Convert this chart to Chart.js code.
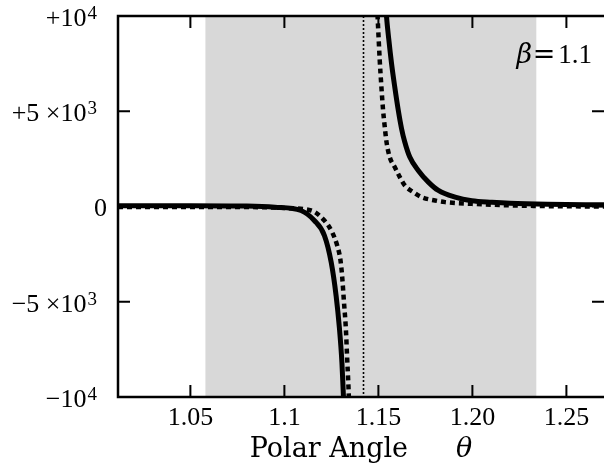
<!DOCTYPE html>
<html>
<head>
<meta charset="utf-8">
<script src="https://cdn.jsdelivr.net/npm/chart.js@4"></script>
<style>
  body { margin: 0; background: #fff; }
</style>
</head>
<body>
<canvas id="PoleChart" width="604" height="468"></canvas>
<script>
// 실선 곡선 (null = 극점에서 끊김)
const thetaSolid = [1.0115, 1.05, 1.08, 1.095, 1.1088, 1.1159, 1.1213, 1.1249, 1.1275, 1.1293, 1.1306, 1.1314, 1.1325,
                    1.142,
                    1.1530, 1.1543, 1.1555, 1.157, 1.1587, 1.1605, 1.1623, 1.164, 1.1667, 1.1712, 1.1766, 1.1819,
                    1.1908, 1.1997, 1.2104, 1.22, 1.24, 1.27];
const valSolid = [40, 40, 20, -40, -210, -736, -1525, -2930, -4680, -6420, -8190, -9950, -12000,
                  null,
                  12000, 10000, 8800, 7500, 6280, 5100, 4100, 3400, 2595, 1894, 1280, 842,
                  490, 300, 220, 170, 120, 90];

// 점선 곡선
const thetaDashed = [1.0115, 1.05, 1.09, 1.1, 1.1142, 1.1213, 1.1254, 1.1281, 1.1297, 1.1306, 1.1317, 1.1327, 1.1334, 1.1341, 1.1348,
                     1.142,
                     1.1488, 1.1498, 1.1507, 1.1516, 1.1525, 1.1534, 1.1543, 1.156, 1.1587, 1.1614, 1.1641, 1.1686,
                     1.173, 1.1801, 1.1855, 1.1997, 1.22, 1.24, 1.27];
const valDashed = [-20, -20, -40, -80, -210, -736, -1350, -2050, -2736, -3520, -5030, -6420, -8000, -9500, -11500,
                   null,
                   11500, 9500, 7700, 6280, 5050, 4174, 3400, 2600, 2070, 1542, 1100, 753,
                   490, 316, 230, 140, 60, 20, 0];

// 축 눈금
const xTickVals = [1.05, 1.1, 1.15, 1.20, 1.25];
const xTickLabels = ['1.05', '1.1', '1.15', '1.20', '1.25'];
const yTickVals = [-10000, -5000, 0, 5000, 10000];
const yTickBase = ['\u221210', '\u22125 \u00d710', '0', '+5 \u00d710', '+10'];
const yTickExp = ['4', '3', '', '3', '4'];

// 회색 영역, 극점 위치
const shadeFrom = 1.058;
const shadeTo = 1.234;
const poleTheta = 1.1418;

const toPoints = (xs, ys) => xs.map((x, i) => ({ x: x, y: ys[i] }));

const serif = "'DejaVu Serif', serif";
const tickFont = "'Liberation Serif', serif";

const decor = {
    id: 'decor',
    beforeDatasetsDraw(chart) {
        const { ctx, chartArea, scales } = chart;
        const x = scales.x;
        ctx.save();
        // 회색 배경 영역
        const x0 = x.getPixelForValue(shadeFrom);
        const x1 = x.getPixelForValue(shadeTo);
        ctx.fillStyle = '#d8d8d8';
        ctx.fillRect(x0, chartArea.top, x1 - x0, chartArea.bottom - chartArea.top);
        // 극점 점선
        const xp = Math.round(x.getPixelForValue(poleTheta)) + 0.5;
        ctx.strokeStyle = '#000';
        ctx.lineWidth = 1.6;
        ctx.setLineDash([2, 2]);
        ctx.beginPath();
        ctx.moveTo(xp, chartArea.top);
        ctx.lineTo(xp, chartArea.bottom);
        ctx.stroke();
        ctx.restore();
    },
    afterDatasetsDraw(chart) {
        const { ctx, chartArea, scales } = chart;
        const { left, right, top, bottom } = chartArea;
        ctx.save();
        ctx.strokeStyle = '#000';
        ctx.lineWidth = 2;
        // 안쪽으로 향한 눈금
        ctx.beginPath();
        xTickVals.forEach(v => {
            const px = scales.x.getPixelForValue(v);
            ctx.moveTo(px, bottom); ctx.lineTo(px, bottom - 12);
            ctx.moveTo(px, top); ctx.lineTo(px, top + 12);
        });
        yTickVals.forEach(v => {
            const py = scales.y.getPixelForValue(v);
            ctx.moveTo(left, py); ctx.lineTo(left + 12, py);
            ctx.moveTo(right, py); ctx.lineTo(right - 12, py);
        });
        ctx.stroke();
        // 테두리 (오른쪽 선은 그림 밖)
        ctx.lineWidth = 2.5;
        ctx.strokeRect(left, top, right - left + 3, bottom - top);

        ctx.fillStyle = '#000';
        ctx.textBaseline = 'alphabetic';

        // y축 라벨 (지수는 작게 위로)
        yTickVals.forEach((v, i) => {
            const py = scales.y.getPixelForValue(v);
            const base = yTickBase[i];
            const exp = yTickExp[i];
            if (!exp) {
                ctx.font = '26px ' + tickFont;
                ctx.textAlign = 'right';
                ctx.fillText(base, 107, py + 9);
                return;
            }
            ctx.font = '19px ' + tickFont;
            ctx.textAlign = 'right';
            ctx.fillText(exp, 97, py + 3);
            const we = ctx.measureText(exp).width;
            ctx.font = '26px ' + tickFont;
            ctx.fillText(base, 97 - we - 1, py + 10);
        });
        ctx.textAlign = 'left';

        // beta 라벨
        ctx.font = '27px ' + tickFont;
        const w11 = ctx.measureText('1.1').width;
        ctx.fillText('1.1', 592 - w11, 63);
        ctx.font = '27px ' + serif;
        const wEq = ctx.measureText('=').width;
        ctx.fillText('=', 544 - wEq / 2, 63);
        ctx.font = 'italic 27px ' + serif;
        const wB = ctx.measureText('\u03b2').width;
        ctx.fillText('\u03b2', 532 - wB, 63);

        // x축 제목
        const cx = (left + right) / 2;
        ctx.font = '27px ' + serif;
        const wTitle = ctx.measureText('Polar Angle').width;
        ctx.font = 'italic 27px ' + serif;
        const wTheta = ctx.measureText('\u03b8').width;
        const gap = 48;
        const start = cx - (wTitle + gap + wTheta) / 2;
        ctx.font = '27px ' + serif;
        ctx.fillText('Polar Angle', start, 457);
        ctx.font = 'italic 27px ' + serif;
        ctx.fillText('\u03b8', start + wTitle + gap, 457);
        ctx.restore();
    }
};

const pole_chart = () => {
    const ctx = document.getElementById('PoleChart');
    if (!ctx) return;

    new Chart(ctx, {
        type: 'scatter',
        data: {
            datasets: [
                {
                    label: 'solid',
                    data: toPoints(thetaSolid, valSolid),
                    showLine: true,
                    borderColor: '#000',
                    borderWidth: 5,
                    pointRadius: 0,
                    cubicInterpolationMode: 'monotone',
                    spanGaps: false
                },
                {
                    label: 'dashed',
                    data: toPoints(thetaDashed, valDashed),
                    showLine: true,
                    borderColor: '#000',
                    borderWidth: 4.5,
                    borderDash: [5, 4],
                    pointRadius: 0,
                    cubicInterpolationMode: 'monotone',
                    spanGaps: false
                }
            ]
        },
        options: {
            responsive: false,
            animation: false,
            layout: { padding: { top: 16, right: 0, left: 0, bottom: 0 } },
            plugins: {
                legend: { display: false },
                tooltip: { enabled: false }
            },
            scales: {
                x: {
                    type: 'linear',
                    min: 1.0115,
                    max: 1.27,
                    grid: { display: false, drawTicks: false },
                    border: { display: false },
                    afterBuildTicks: s => { s.ticks = xTickVals.map(v => ({ value: v })); },
                    afterFit: s => { s.height = 71; s.paddingLeft = 0; s.paddingRight = 0; },
                    ticks: {
                        color: '#000',
                        padding: 6,
                        maxRotation: 0,
                        font: { family: tickFont, size: 26 },
                        callback: (v, i) => xTickLabels[i]
                    }
                },
                y: {
                    min: -10000,
                    max: 10000,
                    grid: { display: false, drawTicks: false },
                    border: { display: false },
                    afterBuildTicks: s => { s.ticks = yTickVals.map(v => ({ value: v })); },
                    afterFit: s => { s.width = 118; s.paddingTop = 0; s.paddingBottom = 0; },
                    ticks: {
                        display: false
                    }
                }
            }
        },
        plugins: [decor]
    });
};

document.addEventListener('DOMContentLoaded', () => {
    pole_chart();
});
</script>
</body>
</html>
